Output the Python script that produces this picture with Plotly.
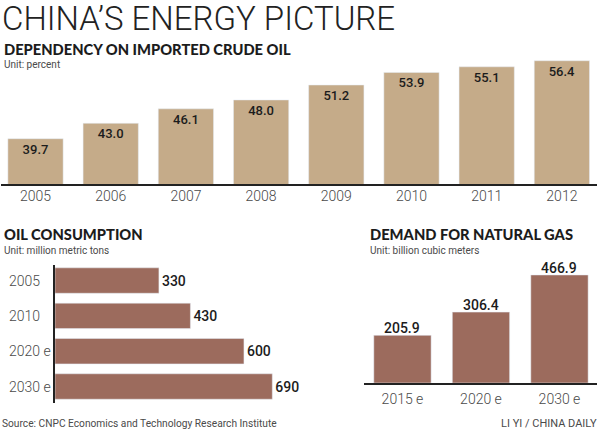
import plotly.graph_objects as go

W, H = 600, 431

anos = ['2005', '2006', '2007', '2008', '2009', '2010', '2011', '2012']
dependencia = [39.7, 43.0, 46.1, 48.0, 51.2, 53.9, 55.1, 56.4]

anos_oil = ['2005', '2010', '2020 e', '2030 e']
consumo = [330, 430, 600, 690]

anos_gas = ['2015 e', '2020 e', '2030 e']
gas = [205.9, 306.4, 466.9]

TAN = '#C5AB89'
BROWN = '#9C6B5D'
TEXT = '#4a4a4a'
DARK = '#1c1c1c'
HEAD = 'Lato'
SANS = 'Roboto'


def px_x(a, b):
    return [a / W, b / W]


def px_y(a, b):
    return [1 - b / H, 1 - a / H]


fig = go.Figure()

fig.add_trace(go.Bar(
    x=anos, y=dependencia, xaxis='x', yaxis='y',
    marker=dict(color=TAN), width=0.735,
    text=[f'{v:.1f}' for v in dependencia],
    textposition='inside', insidetextanchor='end', textangle=0,
    textfont=dict(family=SANS, size=13, color=DARK, weight=500),
))

fig.add_trace(go.Bar(
    y=anos_oil, x=consumo, orientation='h', xaxis='x2', yaxis='y2',
    marker=dict(color=BROWN), width=0.72,
    text=[str(v) for v in consumo],
    textposition='outside', cliponaxis=False, textangle=0,
    textfont=dict(family=SANS, size=14, color=DARK, weight=500),
))

fig.add_trace(go.Bar(
    x=anos_gas, y=gas, xaxis='x3', yaxis='y3',
    marker=dict(color=BROWN), width=0.73,
))

value_font = dict(family=SANS, size=14, color=DARK, weight=500)
for i, v in enumerate(gas):
    fig.add_annotation(
        text=f'{v:.1f}', x=i, y=v, xref='x3', yref='y3',
        xanchor='center', yanchor='bottom', showarrow=False,
        borderpad=0, yshift=-2, font=value_font,
    )

head_font = dict(family=HEAD, size=14.7, color=DARK, weight=900)
unit_font = dict(family=SANS, size=10, color=TEXT)
titulos = [
    ("CHINA’S ENERGY PICTURE", 0, 18, dict(family=SANS, size=33, color='#222222', weight=300)),
    ('DEPENDENCY ON IMPORTED CRUDE OIL', 2, 49, head_font),
    ('Unit: percent', 2, 64, unit_font),
    ('OIL CONSUMPTION', 2, 234, head_font),
    ('Unit: million metric tons', 2, 250, unit_font),
    ('DEMAND FOR NATURAL GAS', 368, 234, head_font),
    ('Unit: billion cubic meters', 368, 250, unit_font),
    ('Source: CNPC Economics and Technology Research Institute', 0, 423, dict(family=SANS, size=10.2, color=TEXT)),
    ('LI YI / CHINA DAILY', 499, 423, dict(family=SANS, size=11, color=TEXT)),
]
for texto, x, y, fonte in titulos:
    fig.add_annotation(
        text=texto, x=x / W, y=1 - y / H, xref='paper', yref='paper',
        xanchor='left', yanchor='middle', showarrow=False, font=fonte,
    )

tick_font = dict(family=SANS, size=14, color=TEXT, weight=300)

# left aligned labels of the oil chart
for i, ano in enumerate(anos_oil):
    fig.add_annotation(
        text=ano, x=7 / W, y=i, xref='paper', yref='y2',
        xanchor='left', yanchor='middle', showarrow=False, font=tick_font,
    )

fig.update_layout(
    width=W, height=H,
    margin=dict(l=0, r=0, t=0, b=0),
    paper_bgcolor='white', plot_bgcolor='white',
    showlegend=False,
    xaxis=dict(domain=px_x(1, 597), range=[-0.459, 7.467], type='category',
               showline=True, linecolor='#222222', linewidth=2, ticks='',
               tickfont=tick_font, showgrid=False, ticklabelstandoff=-2),
    yaxis=dict(domain=px_y(50, 184), range=[30, 58.7], visible=False, showgrid=False),
    xaxis2=dict(domain=px_x(55, 300), range=[0, 778], visible=False, showgrid=False),
    yaxis2=dict(domain=px_y(265, 403), anchor='x2', range=[3.467, -0.44], type='category',
                categoryorder='array', categoryarray=anos_oil,
                showline=True, linecolor='#222222', linewidth=2, ticks='',
                showticklabels=False, showgrid=False),
    xaxis3=dict(domain=px_x(364, 597), range=[-0.49, 2.478], type='category', anchor='y3',
                showline=True, linecolor='#222222', linewidth=2, ticks='',
                tickfont=tick_font, showgrid=False, ticklabelstandoff=2),
    yaxis3=dict(domain=px_y(265, 383), range=[0, 510], visible=False, showgrid=False),
)

fig.write_html("out.html", config=dict(displayModeBar=False),
               post_script="document.body.style.margin='0';")
